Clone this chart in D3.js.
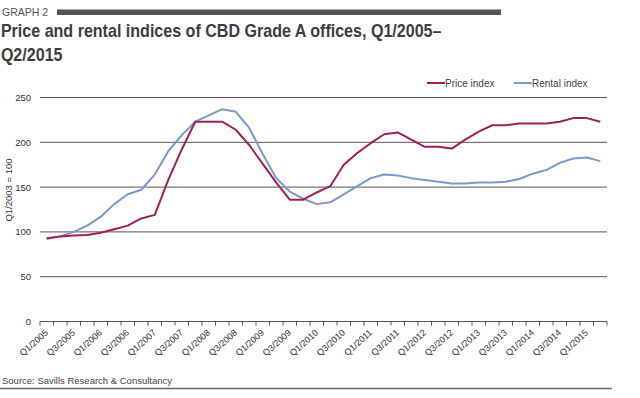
<!DOCTYPE html>
<html>
<head>
  <script src="https://cdnjs.cloudflare.com/ajax/libs/d3/7.8.5/d3.min.js" type="text/javascript"></script>
  <style>
    body { margin: 0; background: #fff; }
    svg { font-family: "Liberation Sans", Arial, sans-serif; }
  </style>
</head>
<body>
  <svg id="chart" width="640" height="398"></svg>
  <script>

    // quarters Q1/2005 .. Q2/2015
    var quarters = [];
    for (var yr = 2005; yr <= 2015; yr++) {
      for (var q = 1; q <= 4; q++) {
        if (yr === 2015 && q > 2) break;
        quarters.push("Q" + q + "/" + yr);
      }
    }

    var priceIndex = [93, 95, 96, 96.5, 99, 103, 107, 115, 119, 158, 192, 223, 223, 223, 214, 197, 176, 155, 136, 136,
      144, 151, 175, 188, 199, 209, 211, 203, 195, 195, 193, 203, 212, 219, 219, 221, 221, 221, 223, 227, 227, 223];
    var rentalIndex = [92, 95, 100, 107, 117, 131, 142, 147, 164, 190, 208, 223, 230, 237, 234, 216, 187, 160, 145, 137,
      131, 133, 142, 151, 160, 164, 163, 160, 158, 156, 154, 154, 155, 155, 156, 159, 165, 169, 177, 182, 183, 179];

    var seriesNames = ["Price index", "Rental index"];
    var seriesColors = ["#a0204f", "#7e99c9"];
    var yTicks = [0, 50, 100, 150, 200, 250];

    var svg = d3.select("#chart");

    // header
    svg.append("text")
      .attr("x", 2).attr("y", 16)
      .style("font-size", "10.5px").style("fill", "#555")
      .text("GRAPH 2");
    svg.append("rect")
      .attr("x", 57).attr("y", 9.5).attr("width", 444).attr("height", 5.5)
      .style("fill", "#555");

    // the original face is narrower than Liberation Sans, so squeeze it a bit
    var title = svg.append("text")
      .attr("transform", "scale(0.893,1)")
      .style("font-size", "18px").style("font-weight", "bold").style("fill", "#3d3d3d");
    title.append("tspan").attr("x", 1).attr("y", 37).text("Price and rental indices of CBD Grade A offices, Q1/2005\u2013");
    title.append("tspan").attr("x", 1).attr("y", 61).text("Q2/2015");

    var x = d3.scaleBand().domain(quarters).range([40, 607]);
    var y = d3.scaleLinear().domain([0, 250]).range([321.5, 97.5]);

    // gridlines
    svg.append("g")
      .selectAll("line")
      .data(yTicks.slice(1))
      .enter().append("line")
      .attr("x1", 40).attr("x2", 607)
      .attr("y1", d => y(d)).attr("y2", d => y(d))
      .style("stroke", "#555").style("stroke-width", 1);

    svg.append("g")
      .selectAll("text")
      .data(yTicks)
      .enter().append("text")
      .attr("x", 31).attr("y", d => y(d) + 3.5)
      .attr("text-anchor", "end")
      .style("font-size", "9.5px").style("fill", "#333")
      .text(d => d);

    svg.append("text")
      .attr("transform", "translate(12,190) rotate(-90)")
      .attr("text-anchor", "middle")
      .style("font-size", "9.5px").style("fill", "#333")
      .text("Q1/2003 = 100");

    // x axis
    var xAxis = svg.append("g");
    xAxis.append("line")
      .attr("x1", 40).attr("x2", 607)
      .attr("y1", y(0)).attr("y2", y(0))
      .style("stroke", "#555").style("stroke-width", 1);
    xAxis.selectAll("line.tick")
      .data(quarters.concat(["end"]))
      .enter().append("line")
      .attr("class", "tick")
      .attr("x1", (d, i) => 40 + i * x.step()).attr("x2", (d, i) => 40 + i * x.step())
      .attr("y1", y(0)).attr("y2", y(0) + 4)
      .style("stroke", "#555").style("stroke-width", 1);
    xAxis.selectAll("text")
      .data(quarters.filter((d, i) => i % 2 === 0))
      .enter().append("text")
      .attr("transform", d => "translate(" + (x(d) + x.bandwidth() / 2 + 2) + "," + (y(0) + 12) + ") rotate(-42)")
      .attr("text-anchor", "end")
      .style("font-size", "9px").style("fill", "#333")
      .text(d => d);

    // lines
    var line = d3.line()
      .x((d, i) => x(quarters[i]) + x.bandwidth() / 2)
      .y(d => y(d));

    [rentalIndex, priceIndex].forEach(function(vals, k) {
      svg.append("path")
        .datum(vals)
        .attr("d", line)
        .style("fill", "none")
        .style("stroke", seriesColors[1 - k])
        .style("stroke-width", 2)
        .style("stroke-linejoin", "round");
    });

    // legend
    var legendX = [427, 514];
    seriesNames.forEach(function(name, i) {
      svg.append("line")
        .attr("x1", legendX[i]).attr("x2", legendX[i] + 18)
        .attr("y1", 83).attr("y2", 83)
        .style("stroke", seriesColors[i]).style("stroke-width", 2);
      svg.append("text")
        .attr("x", legendX[i] + 18).attr("y", 86.5)
        .style("font-size", "10px").style("fill", "#444")
        .text(name);
    });

    // source
    svg.append("text")
      .attr("x", 2).attr("y", 384)
      .style("font-size", "9.5px").style("fill", "#444")
      .text("Source: Savills Research & Consultancy");
    svg.append("line")
      .attr("x1", 0).attr("x2", 612)
      .attr("y1", 388.5).attr("y2", 388.5)
      .style("stroke", "#666").style("stroke-width", 1.5);
  </script>
</body>
</html>
